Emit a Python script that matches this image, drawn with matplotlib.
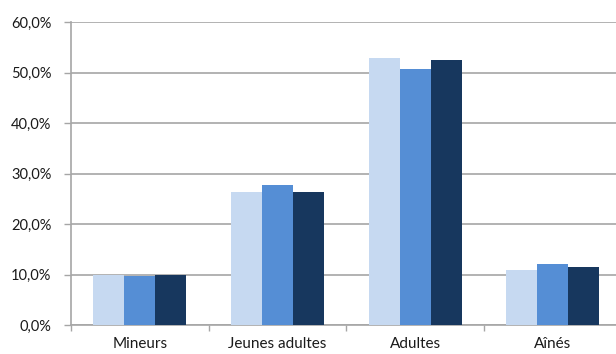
import numpy as np
import matplotlib.pyplot as plt
from matplotlib.ticker import FuncFormatter

categories = ["Mineurs", "Jeunes adultes", "Adultes", "Aînés"]
serie_1 = [10.0, 26.3, 52.8, 10.8]
serie_2 = [9.7, 27.7, 50.7, 12.1]
serie_3 = [10.0, 26.3, 52.4, 11.4]

COLORS = ["#C6D9F1", "#558ED5", "#17375E"]
GRID_COLOR = "#A6A6A6"

plt.rcParams["font.family"] = ["Lato", "DejaVu Sans"]

fig = plt.figure(figsize=(6.16, 3.54), dpi=100)
ax = fig.add_axes([71 / 616, 29 / 354, 550.5 / 616, 303 / 354])

x = np.arange(len(categories))
width = 0.225
for i, values in enumerate([serie_1, serie_2, serie_3]):
    ax.bar(x + (i - 1) * width, values, width, color=COLORS[i], zorder=3)

ax.set_ylim(0, 60)
ax.set_xlim(-0.5, len(categories) - 0.5)
ax.set_yticks(np.arange(0, 61, 10))
ax.yaxis.set_major_formatter(FuncFormatter(lambda v, _: f"{v:.1f}%".replace(".", ",")))
ax.grid(axis="y", color=GRID_COLOR, linewidth=1.2, zorder=0)

ax.set_xticks(x)
ax.set_xticklabels(categories)
ax.set_xticks(np.arange(-0.5, len(categories)), minor=True)
ax.tick_params(axis="x", which="major", length=0, pad=9, labelsize=11, colors="#1a1a1a")
ax.tick_params(axis="x", which="minor", length=4, color=GRID_COLOR, width=1)
ax.tick_params(axis="y", length=5, color=GRID_COLOR, width=1, pad=9, labelsize=10.5, labelcolor="#1a1a1a")

for side in ["top", "right"]:
    ax.spines[side].set_visible(False)
ax.spines["left"].set_color(GRID_COLOR)
ax.spines["bottom"].set_color(GRID_COLOR)
ax.spines["left"].set_linewidth(1.2)
ax.spines["bottom"].set_linewidth(1.2)

fig.savefig("out.png", dpi=100)
